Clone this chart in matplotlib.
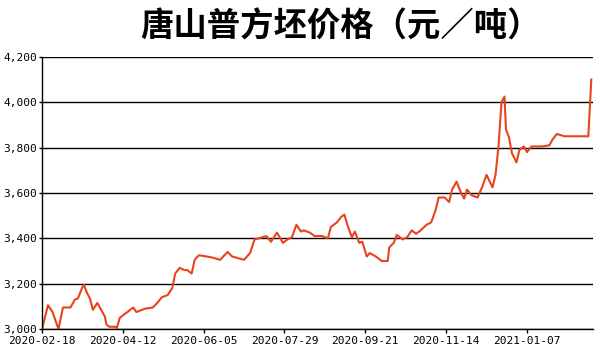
import pandas as pd
import matplotlib.pyplot as plt
import matplotlib.dates as mdates
from matplotlib.ticker import FuncFormatter

# price: days after 2020-02-18, price in yuan/ton
start = pd.Timestamp("2020-02-18")
days = [0, 4, 5, 7, 11, 14, 19, 22, 24, 27, 28, 30, 32, 34, 37, 42, 43, 45, 49, 50,
        52, 54, 57, 61, 63, 69, 74, 77, 80, 84, 87, 89, 92, 95, 97, 100, 102, 104, 105,
        110, 114, 119, 124, 127, 135, 139, 142, 145, 150, 153, 157, 161, 164, 167, 170,
        173, 175, 179, 182, 187, 191, 193, 197, 200, 202, 204, 207, 209, 212, 214, 217,
        219, 223, 227, 231, 232, 235, 237, 241, 244, 247, 250, 253, 257, 260, 263, 265,
        269, 272, 274, 277, 280, 282, 284, 287, 291, 294, 297, 301, 303, 305, 307, 309,
        310, 312, 314, 317, 319, 322, 324, 327, 334, 339, 341, 344, 349, 365, 367]
price = [3000, 3105, 3095, 3075, 3000, 3095, 3095, 3130, 3135, 3185, 3195, 3160, 3135,
         3085, 3115, 3055, 3020, 3010, 3010, 3005, 3050, 3060, 3075, 3095, 3075, 3090,
         3095, 3115, 3140, 3150, 3180, 3245, 3270, 3260, 3260, 3245, 3305, 3320, 3325,
         3320, 3315, 3305, 3340, 3320, 3305, 3335, 3395, 3400, 3410, 3385, 3425, 3380,
         3395, 3405, 3460, 3430, 3435, 3425, 3410, 3410, 3400, 3450, 3470, 3495, 3505,
         3460, 3405, 3430, 3380, 3385, 3320, 3335, 3320, 3300, 3300, 3360, 3380, 3415,
         3395, 3405, 3435, 3420, 3435, 3460, 3470, 3525, 3580, 3580, 3560, 3615, 3650,
         3600, 3575, 3615, 3590, 3580, 3625, 3680, 3625, 3680, 3805, 4000, 4025, 3880,
         3845, 3775, 3735, 3790, 3805, 3780, 3805, 3805, 3810, 3835, 3860, 3850, 3850, 4100]
tick_dates = ["2020-02-18", "2020-04-12", "2020-06-05", "2020-07-29",
              "2020-09-21", "2020-11-14", "2021-01-07"]

dates = [start + pd.Timedelta(days=d) for d in days]

plt.rcParams['font.family'] = ['Noto Sans CJK SC', 'DejaVu Sans']

fig = plt.figure(figsize=(6, 3.6), dpi=100)
ax = fig.add_axes([0.07, 0.086, 0.918, 0.756])

ax.plot(dates, price, color='#e8441c', linewidth=1.5)

ax.set_ylim(3000, 4200)
ax.set_yticks(range(3000, 4201, 200))
ax.yaxis.set_major_formatter(FuncFormatter(lambda v, p: f"{int(v):,}"))
ax.set_xlim(start, start + pd.Timedelta(days=368))
ax.set_xticks(pd.to_datetime(tick_dates))
ax.xaxis.set_major_formatter(mdates.DateFormatter("%Y-%m-%d"))

ax.grid(axis='y', color='black', linewidth=1)
ax.set_axisbelow(True)
for s in ['top', 'right']:
    ax.spines[s].set_visible(False)
for s in ['left', 'bottom']:
    ax.spines[s].set_linewidth(1)
ax.tick_params(labelsize=8, length=3, width=1, pad=2)
ax.tick_params(axis='y', length=2, pad=1.5)
for lbl in ax.get_xticklabels() + ax.get_yticklabels():
    lbl.set_family('DejaVu Sans Mono')

fig.text(0.567, 0.925, "唐山普方坯价格（元／吨）", ha='center', va='center',
         fontsize=24, fontweight='bold', family=['Noto Sans CJK SC'])

fig.savefig("out.png", dpi=100, facecolor='white')
